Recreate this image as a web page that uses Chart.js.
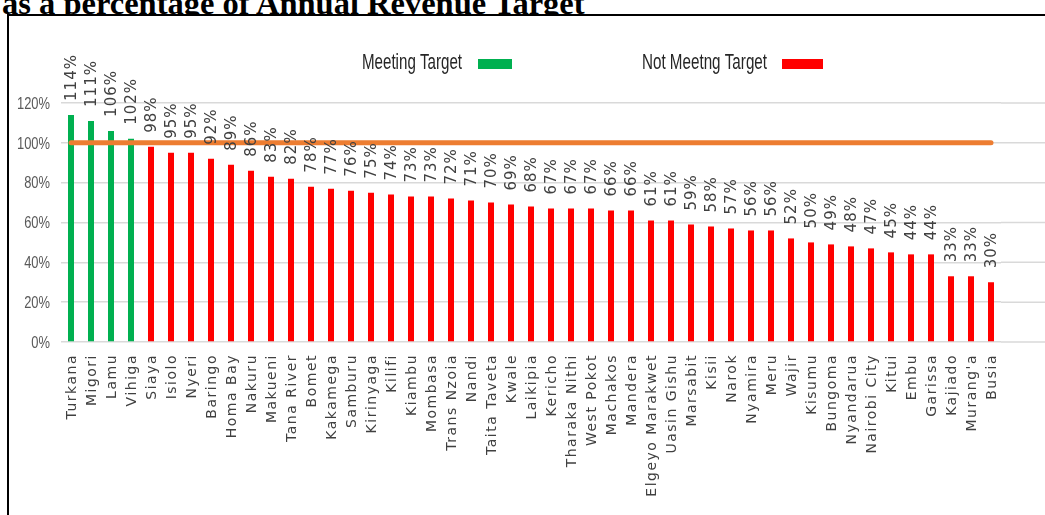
<!DOCTYPE html>
<html>
<head>
<meta charset="utf-8">
<script src="https://cdn.jsdelivr.net/npm/chart.js@4.4.1/dist/chart.umd.min.js"></script>
<style>
  html, body { margin: 0; padding: 0; background: #fff; overflow: hidden; }
  #title {
    position: absolute; left: 2px; top: -13px;
    font: bold 32.5px "Liberation Serif", "Times New Roman", serif;
    line-height: 32px; white-space: nowrap; color: #000;
  }
  #frame {
    position: absolute; left: 7px; top: 14px; width: 1100px; height: 600px;
    border: 2px solid #000; background: #fff;
  }
  #chartBox { position: absolute; left: 0; top: 0; width: 1045px; height: 515px; }
</style>
</head>
<body>
<div id="title">as a percentage of Annual Revenue Target</div>
<div id="frame"></div>
<div id="chartBox"><canvas id="revenueChart" width="1045" height="515"></canvas></div>

<script>
// counties, ordered as in the picture
const counties = [
  'Turkana', 'Migori', 'Lamu', 'Vihiga', 'Siaya', 'Isiolo', 'Nyeri', 'Baringo',
  'Homa Bay', 'Nakuru', 'Makueni', 'Tana River', 'Bomet', 'Kakamega', 'Samburu',
  'Kirinyaga', 'Kilifi', 'Kiambu', 'Mombasa', 'Trans Nzoia', 'Nandi', 'Taita Taveta',
  'Kwale', 'Laikipia', 'Kericho', 'Tharaka Nithi', 'West Pokot', 'Machakos', 'Mandera',
  'Elgeyo Marakwet', 'Uasin Gishu', 'Marsabit', 'Kisii', 'Narok', 'Nyamira', 'Meru',
  'Wajir', 'Kisumu', 'Bungoma', 'Nyandarua', 'Nairobi City', 'Kitui', 'Embu',
  'Garissa', 'Kajiado', "Murang'a", 'Busia'
];

// revenue collected as % of annual target
const revenuePct = [
  114, 111, 106, 102, 98, 95, 95, 92,
  89, 86, 83, 82, 78, 77, 76,
  75, 74, 73, 73, 72, 71, 70,
  69, 68, 67, 67, 67, 66, 66,
  61, 61, 59, 58, 57, 56, 56,
  52, 50, 49, 48, 47, 45, 44,
  44, 33, 33, 30
];

const targetPct = 100;
const yTickStep = 20;
const yMax = 120;
const legendLabels = ['Meeting Target', 'Not Meetng Target'];

const GREEN = '#00B050';
const RED = '#FF0000';
const ORANGE = '#ED7D31';

const barColors = revenuePct.map(v => v >= targetPct ? GREEN : RED);

// target line runs from first to last county
const targetPoints = [
  { x: counties[0], y: targetPct },
  { x: counties[counties.length - 1], y: targetPct }
];

// gridlines carry on to the right edge of the frame
const gridExtender = {
  id: 'gridExtender',
  beforeDatasetsDraw(chart) {
    const ctx = chart.ctx;
    const yScale = chart.scales.y;
    ctx.save();
    ctx.strokeStyle = '#d9d9d9';
    ctx.lineWidth = 1.5;
    yScale.ticks.forEach(t => {
      const y = yScale.getPixelForValue(t.value);
      ctx.beginPath();
      ctx.moveTo(chart.chartArea.right, y);
      ctx.lineTo(chart.width, y);
      ctx.stroke();
    });
    ctx.restore();
  }
};

// narrow (condensed) y tick labels
const yLabels = {
  id: 'yLabels',
  afterDraw(chart) {
    const ctx = chart.ctx;
    const yScale = chart.scales.y;
    ctx.save();
    ctx.font = '17px "Liberation Sans", Arial, sans-serif';
    ctx.fillStyle = '#595959';
    ctx.textAlign = 'right';
    ctx.textBaseline = 'middle';
    yScale.ticks.forEach(t => {
      const txt = t.value + '%';
      const w = ctx.measureText(txt).width * 0.76;
      ctx.fillText(txt, chart.chartArea.left - 11, yScale.getPixelForValue(t.value) + 1, w);
    });
    ctx.restore();
  }
};

const barLabels = {
  id: 'barLabels',
  afterDatasetsDraw(chart) {
    const ctx = chart.ctx;
    const meta = chart.getDatasetMeta(0);
    ctx.save();
    ctx.font = '15px "DejaVu Sans", Verdana, sans-serif';
    ctx.letterSpacing = '1px';
    ctx.fillStyle = '#404040';
    ctx.textAlign = 'left';
    ctx.textBaseline = 'middle';
    meta.data.forEach((bar, i) => {
      ctx.save();
      ctx.translate(bar.x + 1, bar.y - 14);
      ctx.rotate(-Math.PI / 2);
      ctx.fillText(revenuePct[i] + '%', 0, 0);
      ctx.restore();
    });
    ctx.restore();
  }
};

const countyLabels = {
  id: 'countyLabels',
  afterDraw(chart) {
    const ctx = chart.ctx;
    const xScale = chart.scales.x;
    ctx.save();
    ctx.font = '14px "DejaVu Sans", Verdana, sans-serif';
    ctx.letterSpacing = '1.5px';
    ctx.fillStyle = '#404040';
    ctx.textAlign = 'right';
    ctx.textBaseline = 'middle';
    counties.forEach((name, i) => {
      ctx.save();
      ctx.translate(xScale.getPixelForValue(i) + 1, chart.chartArea.bottom + 12);
      ctx.rotate(-Math.PI / 2);
      ctx.fillText(name, 0, 0);
      ctx.restore();
    });
    ctx.restore();
  }
};

const sideLegend = {
  id: 'sideLegend',
  afterDraw(chart) {
    const ctx = chart.ctx;
    ctx.save();
    ctx.font = '22px "Liberation Sans", Arial, sans-serif';
    ctx.fillStyle = '#262626';
    ctx.textBaseline = 'alphabetic';
    ctx.fillText(legendLabels[0], 362, 69, 100);
    ctx.fillText(legendLabels[1], 642, 69, 125);
    ctx.fillStyle = GREEN;
    ctx.fillRect(478, 59, 34, 10);
    ctx.fillStyle = RED;
    ctx.fillRect(782, 59, 41, 10);
    ctx.restore();
  }
};

new Chart(document.getElementById('revenueChart'), {
  data: {
    labels: counties,
    datasets: [
      {
        type: 'bar',
        label: 'Revenue',
        data: revenuePct,
        backgroundColor: barColors,
        barPercentage: 0.3,
        categoryPercentage: 1.0,
        order: 2
      },
      {
        type: 'line',
        label: 'Target',
        data: targetPoints,
        borderColor: ORANGE,
        borderWidth: 5,
        borderCapStyle: 'round',
        pointRadius: 0,
        fill: false,
        order: 1
      }
    ]
  },
  options: {
    responsive: false,
    animation: false,
    devicePixelRatio: 1,
    layout: { padding: { top: 103, right: 44, left: 0, bottom: 0 } },
    plugins: {
      legend: { display: false },
      tooltip: { enabled: false }
    },
    scales: {
      x: {
        ticks: { display: false },
        grid: { display: false },
        border: { display: false },
        afterFit: s => { s.height = 173; }
      },
      y: {
        min: 0,
        max: yMax,
        ticks: { stepSize: yTickStep, display: false },
        grid: { color: '#d9d9d9', lineWidth: 1.5, drawTicks: false },
        border: { display: false },
        afterFit: s => { s.width = 61; }
      }
    }
  },
  plugins: [gridExtender, yLabels, barLabels, countyLabels, sideLegend]
});
</script>
</body>
</html>
